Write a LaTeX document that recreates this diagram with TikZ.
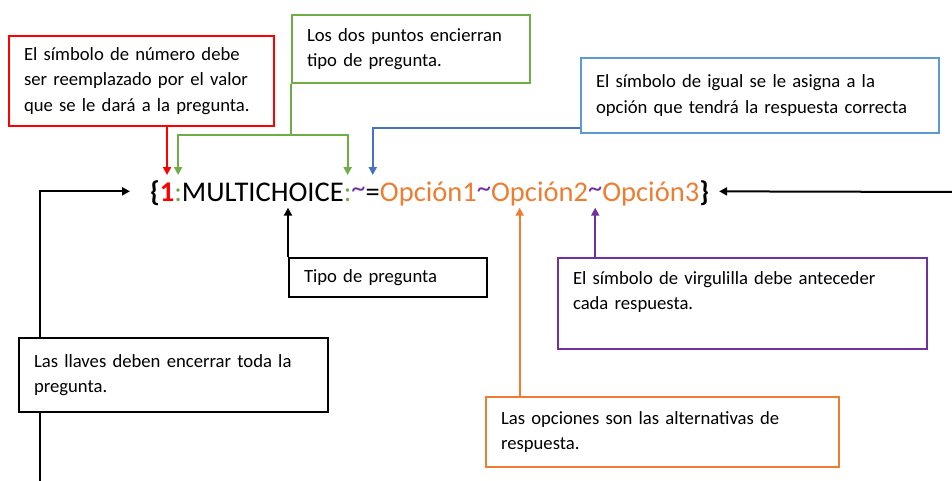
\documentclass[tikz,border=0pt]{standalone}
\usepackage{fontspec}
\setmainfont{Carlito}
\usetikzlibrary{arrows.meta, positioning}
\definecolor{ored}{HTML}{FF0000}
\definecolor{ogreen}{HTML}{70AD47}
\definecolor{oblue}{HTML}{5B9BD5}
\definecolor{odblue}{HTML}{4472C4}
\definecolor{opurple}{HTML}{7030A0}
\definecolor{oorange}{HTML}{ED7D31}
\newcommand{\virg}{\raisebox{2.5pt}{\textasciitilde}}
\begin{document}
\begin{tikzpicture}[
    x=0.75pt, y=-0.75pt,
    box/.style={draw, line width=1.5pt, fill=white, anchor=north west, inner xsep=11.25pt, align=left, font=\fontsize{14}{19}\selectfont},
    part/.style={inner sep=0pt, outer sep=0pt, text height=19.5pt, text depth=5pt, font=\fontsize{21.4}{25}\selectfont},
    arrow/.style={-{Triangle[length=6pt,width=6pt]}, line width=1.5pt},
    link/.style={line width=1.5pt}
]
    \useasboundingbox (0,0) rectangle (952,481);
    % pregunta
    \node[part, anchor=base west] (lb) at (150,201) {\textbf{\{}};
    \node[part, base right=0pt of lb, text=ored] (num) {\textbf{1}};
    \node[part, base right=0pt of num, text=ogreen] (colA) {:};
    \node[part, base right=0pt of colA] (type) {MULTICHOICE};
    \node[part, base right=0pt of type, text=ogreen] (colB) {:};
    \node[part, base right=0pt of colB, text=opurple] (tilA) {\virg};
    \node[part, base right=0pt of tilA] (eq) {=};
    \node[part, base right=0pt of eq, text=oorange] (optA) {Opción1};
    \node[part, base right=0pt of optA, text=opurple] (tilB) {\virg};
    \node[part, base right=0pt of tilB, text=oorange] (optB) {Opción2};
    \node[part, base right=0pt of optB, text=opurple] (tilC) {\virg};
    \node[part, base right=0pt of tilC, text=oorange] (optC) {Opción3};
    \node[part, base right=0pt of optC] (rb) {\textbf{\}}};
    % llaves
    \coordinate (lin) at (40,481);
    \coordinate (rin) at (952,192);
    \draw[arrow, shorten >=15pt] (lin) |- (lb.west);
    \draw[arrow, shorten >=7.5pt] (rin) -- (rb.east);
    \node[box, text width=209.25pt, minimum height=55.5pt] (llaves) at (18,337)
        {Las llaves deben encerrar toda la\\pregunta.};
    % numero
    \node[box, draw=ored, text width=176.25pt, minimum height=67.5pt] (simbolo) at (8,35)
        {El símbolo de número debe\\ser reemplazado por el valor\\que se le dará a la pregunta.};
    \draw[arrow, ored] (num.north |- simbolo.south) -- (num.north);
    % dos puntos
    \node[box, draw=ogreen, text width=156pt, minimum height=51pt] (dos) at (291,14)
        {Los dos puntos encierran\\tipo de pregunta.};
    \coordinate (gj) at (dos.south west |- 0,135);
    \draw[link, ogreen] (dos.south west) -- (gj);
    \draw[arrow, ogreen] (gj) -| (colA.north);
    \draw[arrow, ogreen] (gj) -| (colB.north);
    % igual
    \node[box, draw=oblue, text width=246pt, minimum height=56.25pt] (igual) at (580,57)
        {El símbolo de igual se le asigna a la\\opción que tendrá la respuesta correcta};
    \draw[arrow, odblue] ([yshift=4.5pt]igual.south west) -| (eq.north);
    % tipo
    \node[box, text width=126pt, minimum height=29.25pt] (tipo) at (288,257) {Tipo de pregunta};
    \draw[arrow] (tipo.north west) -- (tipo.north west |- type.south);
    % virgulilla
    \node[box, draw=opurple, text width=254.25pt, minimum height=68.25pt] (virg) at (557,257)
        {El símbolo de virgulilla debe anteceder\\cada respuesta.\\ \mbox{}};
    \draw[arrow, opurple] (tilC.south |- virg.north) -- (tilC.south);
    % opciones
    \node[box, draw=oorange, text width=242.25pt, minimum height=52.5pt] (opc) at (485,396)
        {Las opciones son las alternativas de\\respuesta.};
    \draw[arrow, oorange] ([xshift=26pt]opc.north west) -- ([xshift=26pt]opc.north west |- optB.south);
\end{tikzpicture}
\end{document}
